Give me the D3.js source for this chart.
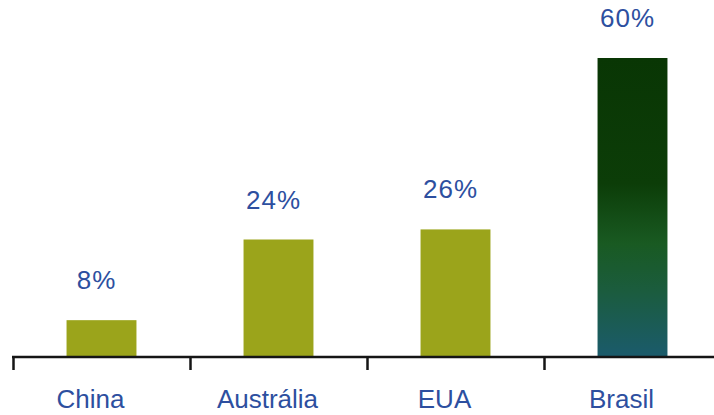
<!DOCTYPE html>
<html>
<head>
<meta charset="utf-8">
<script src="https://cdn.jsdelivr.net/npm/d3@7"></script>
<style>
  html, body { margin: 0; padding: 0; background: #fff; }
  svg { display: block; }
  text { font-family: "Liberation Sans", Arial, sans-serif; }
</style>
</head>
<body>
<svg id="chart" width="714" height="415"></svg>
<script>
// Share by country (%)
const categories = ["China", "Austrália", "EUA", "Brasil"];
const values = [8, 24, 26, 60];
const valueLabels = ["8%", "24%", "26%", "60%"];

const W = 714, H = 415;
const axisY = 357;
const svg = d3.select("#chart");

const x = d3.scaleBand().domain(categories).range([13, 721]).padding(0);
const y = d3.scaleLinear().domain([0, 60]).range([360.5, 58]);
const barW = x.bandwidth() * 0.395;

const defs = svg.append("defs");
const grad = defs.append("linearGradient")
  .attr("id", "brasilGrad").attr("x1", 0).attr("y1", 0).attr("x2", 0).attr("y2", 1);
[[0, "#093604"], [0.42, "#0c3d08"], [0.62, "#195a22"], [0.78, "#1b5c3e"], [1, "#1b5b6c"]]
  .forEach(([o, c]) => grad.append("stop").attr("offset", o).attr("stop-color", c));

const olive = "#9ba41b";

// bars
svg.append("g").selectAll("rect")
  .data(categories)
  .join("rect")
  .attr("x", d => x(d) + x.bandwidth() / 2 - barW / 2)
  .attr("y", (d, i) => y(values[i]))
  .attr("width", barW)
  .attr("height", (d, i) => axisY - y(values[i]))
  .attr("fill", (d, i) => d === "Brasil" ? "url(#brasilGrad)" : olive);

// value labels
svg.append("g").selectAll("text")
  .data(categories)
  .join("text")
  .attr("x", d => x(d) + x.bandwidth() / 2 - 5)
  .attr("y", (d, i) => y(values[i]) - 31)
  .attr("text-anchor", "middle")
  .attr("font-size", 26)
  .attr("letter-spacing", 1)
  .attr("fill", "#2d4f9f")
  .text((d, i) => valueLabels[i]);

// category axis
const axisG = svg.append("g");
axisG.append("line")
  .attr("x1", 12).attr("x2", W).attr("y1", axisY).attr("y2", axisY)
  .attr("stroke", "#151515").attr("stroke-width", 2.5);
axisG.selectAll("line.tick")
  .data(categories)
  .join("line")
  .attr("class", "tick")
  .attr("x1", d => x(d) + 0.5).attr("x2", d => x(d) + 0.5)
  .attr("y1", axisY).attr("y2", 370)
  .attr("stroke", "#151515").attr("stroke-width", 2.5);

axisG.selectAll("text")
  .data(categories)
  .join("text")
  .attr("x", d => x(d) + x.bandwidth() / 2 - 11)
  .attr("y", 408)
  .attr("text-anchor", "middle")
  .attr("font-size", 26)
  .attr("fill", "#2d4f9f")
  .text(d => d);
</script>
</body>
</html>
